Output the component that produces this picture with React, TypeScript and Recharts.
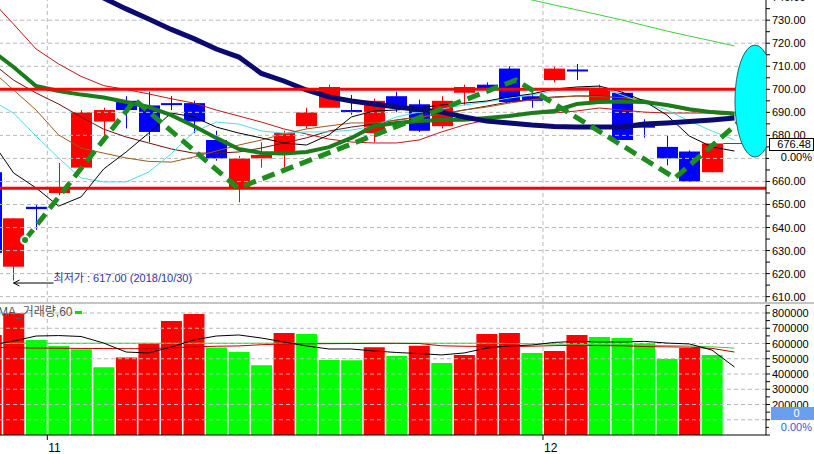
import React from 'react';
import { ComposedChart, Bar, Line, XAxis, YAxis, ReferenceLine, ReferenceDot, Cell } from 'recharts';

// ---------- data ----------
const IDX = [-1, 0, 1, 2, 3, 4, 5, 6, 7, 8, 9, 10, 11, 12, 13, 14, 15, 16, 17, 18, 19, 20, 21, 22, 23, 24, 25, 26, 27, 28, 29, 30, 31, 32];

const OPEN = [664, 623, 649, 655, 666, 686, 695, 693, 694, 694, 678, 657, 670, 672, 684, 692, 691, 681, 697, 693.5, 684, 698.5, 702, 709, 697, 704, 708.6, 694.5, 698.5, 684.2, 675, 673, 664];
const HIGH = [665, 644, 650, 668, 691, 692, 697, 699, 697, 695, 682, 671, 677, 682, 692, 702, 697.5, 696, 699, 695.5, 697, 702, 703, 710, 698, 710, 711, 702, 699, 687, 680, 673.5, 676.5];
const LOW = [628, 617, 639, 654, 665, 680, 683, 677, 691, 681, 669, 651, 666, 666, 683, 692, 689, 677, 690, 681.5, 683, 693, 699, 694, 692, 703, 704, 694, 678, 679, 667, 660, 664];
const CLOSE = [629, 644, 648, 657, 690, 691, 691, 681.5, 693.5, 686, 670, 670, 671.5, 681, 690, 701, 690.5, 695, 692, 682, 695, 701, 700, 694.5, 695, 709, 708.4, 700, 678, 684, 670, 660, 676.48];

const MA_BLACK = [678, 663.7, 657.2, 649.3, 653.3, 665.4, 672.8, 681, 689.7, 688, 683.6, 681, 678.9, 676.7, 675.8, 680.2, 688, 690.6, 691, 691.9, 693.2, 694, 694.9, 696.7, 698, 700.1, 701, 701.4, 698.8, 694.9, 688.8, 679.7, 675, 673.2];
const MA_CYAN = [695.3, 689.7, 679.7, 670.2, 661.5, 659.8, 659.8, 664.1, 672, 681.5, 685.8, 684.9, 681.9, 681, 681.5, 681.5, 682.3, 684.1, 688, 690.1, 691.4, 693.2, 694.5, 696.2, 697.5, 699.3, 700.6, 701, 697.5, 694, 691, 686.2, 681.9, 678];
const MA_BROWN = [708.4, 699.7, 691, 680.2, 674.5, 672.3, 670.2, 668.7, 668.4, 670.6, 673.2, 675.8, 678, 680.6, 682.8, 684.1, 685.4, 685.4, 686.6, 687.9, 689.2, 691, 692.3, 694, 695.4, 696.4, 697.1, 696.8, 696.4, 695.4, 692.7, 690.6, 689.5, 688.8];
const MA_MAROON = [711.8, 704, 698.4, 693.6, 688, 682.7, 679.3, 676.7, 674.1, 672.3, 672.3, 672.8, 674.5, 676.7, 678.9, 681.9, 683.6, 684.9, 686.7, 688, 689.3, 691, 692.7, 694.5, 695.8, 696.7, 697.1, 697.1, 696.2, 694.9, 692.7, 691, 689.7, 688.8];
const MA_RED = [738.8, 728.3, 717.5, 711, 705.6, 701.6, 699.9, 698, 695.9, 694, 691, 688.4, 685.8, 682.8, 680.6, 678.4, 677.1, 676.7, 676.7, 678, 681.5, 684.5, 686.7, 688.4, 689.3, 689.7, 690.6, 691.9, 691, 690.1, 689.7, 689.7, 689.7, 689.7];
const MA_GREEN = [717, 709.7, 701.4, 699.3, 697.7, 696.4, 694.5, 692.3, 688.8, 684.1, 678.9, 674.1, 672.4, 672.1, 672.8, 674.9, 678.9, 684.1, 685.4, 686.2, 686.7, 686.8, 687.5, 688.4, 689.7, 690.6, 693.6, 694.5, 694.7, 694.5, 693.2, 691.4, 690.1, 689.5];
const MA_NAVY = [761, 757, 752.6, 748, 744, 739.6, 734.9, 730.5, 726, 722, 717.5, 714, 706.9, 703.6, 699.7, 696.7, 694.9, 693.6, 692.3, 691.2, 690.1, 688, 686.2, 685.4, 684.5, 683.9, 683.6, 683.6, 683.6, 684.9, 685.4, 686, 686.7, 687.5];
const MA_LIGHT = [null, null, null, null, null, null, null, null, null, null, null, null, null, null, null, null, null, null, null, null, null, 745.5, 743.3, 741, 738.8, 736.6, 734.5, 732.3, 730.1, 727.7, 725.3, 723.1, 721, 718.8];

const TREND_X = [0.51, 5.39, 9.96, 22.3, 29.36, 32.96];
const TREND_Y = [634.6, 695.4, 657.1, 704, 661.5, 692.3];

const LEVELS = [700, 657];
const PRICE_TICKS = [610, 615, 620, 625, 630, 635, 640, 645, 650, 655, 660, 665, 670, 675, 680, 685, 690, 695, 700, 705, 710, 715, 720, 725, 730, 735, 740];
const PRICE_GRID = [610, 620, 630, 640, 650, 660, 670, 680, 690, 700, 710, 720, 730, 740];
const PRICE_LABEL_HIDDEN = [670];

const VOLUME = [656000, 798000, 623000, 584000, 562000, 444000, 509000, 601000, 748000, 793000, 573000, 544000, 457000, 669000, 662000, 492000, 490000, 575000, 518000, 586000, 472000, 525000, 662000, 669000, 538000, 551000, 656000, 643000, 636000, 603000, 498000, 570000, 525000];
const VOL_MA5 = [590000, 616000, 649000, 652000, 646000, 603000, 544000, 538000, 577000, 623000, 649000, 656000, 636000, 610000, 584000, 564000, 564000, 551000, 541000, 534000, 525000, 538000, 570000, 584000, 590000, 607000, 614000, 610000, 610000, 614000, 603000, 597000, 557000, 446000];
const VOL_MA20 = [575000, 572000, 570000, 569000, 568000, 567000, 566000, 566000, 572000, 578000, 582000, 584000, 592000, 597000, 598000, 599000, 600000, 601000, 601000, 600000, 585000, 582000, 580000, 580000, 582000, 586000, 588000, 586000, 585000, 580000, 578000, 576000, 568000, 544000];
const VOL_MA60 = [602000, 602000, 602000, 602000, 602000, 602000, 602000, 602000, 602000, 602000, 602000, 602000, 602000, 602000, 602000, 602000, 602000, 602000, 602000, 602000, 602000, 602000, 602000, 600000, 598000, 596000, 594000, 592000, 590000, 588000, 586000, 584000, 578000, 570000];
const VOL_TICKS = [0, 50000, 100000, 150000, 200000, 250000, 300000, 350000, 400000, 450000, 500000, 550000, 600000, 650000, 700000, 750000, 800000, 850000];
const VOL_GRID = [100000, 200000, 300000, 400000, 500000, 600000, 700000, 800000];

const MONTH_TICKS = [1.5, 23.5];
const MONTH_LABELS = ['11', '12'];

const LOW_NOTE = '최저가 : 617.00 (2018/10/30)';
const VOL_LEGEND = 'MA_거래량,60';
const LAST_PRICE = 676.48;
const LAST_PCT = '0.00%';
const LAST_VOL = '0';

// ---------- layout / style ----------
const W = 814;
const AXIS_W = 48;
const PLOT_RIGHT = W - AXIS_W;
const BODY_W = 21;
const X_DOMAIN = [-0.6, 33.4];
const PRICE_DOMAIN = [607.68, 743.1];
const VOL_DOMAIN = [0, 852459];
const FONT = '"Liberation Sans", Arial, "Noto Sans CJK KR", sans-serif';
const RED = '#ff0000';
const BLUE = '#0000ff';
const VGREEN = '#00ff00';
const GRID = '#b8b8b8';

const priceData = IDX.map((x, k) => ({
  x,
  open: OPEN[k],
  high: HIGH[k],
  low: LOW[k],
  close: CLOSE[k],
  black: MA_BLACK[k],
  cyan: MA_CYAN[k],
  brown: MA_BROWN[k],
  maroon: MA_MAROON[k],
  red: MA_RED[k],
  green: MA_GREEN[k],
  navy: MA_NAVY[k],
  light: MA_LIGHT[k],
}));

const trendData = TREND_X.map((x, k) => ({ x, trend: TREND_Y[k] }));

const volData = IDX.map((x, k) => ({
  x,
  vol: VOLUME[k],
  ma5: VOL_MA5[k],
  ma20: VOL_MA20[k],
  ma60: VOL_MA60[k],
}));

const volColor = (k: number) => (k === 0 || (VOLUME[k] ?? 0) > (VOLUME[k - 1] ?? 0) ? RED : VGREEN);

const candleRange = (d: any) => (d.high == null ? null : [d.low, d.high]);

const Candle = (props: any) => {
  const { x, y, width, height, payload } = props;
  if (!payload || payload.high == null || x == null || y == null) return <g />;
  const { open, close, high, low } = payload;
  const top = height >= 0 ? y : y + height;
  const h = Math.abs(height);
  const ratio = high === low ? 0 : h / (high - low);
  const yOf = (v: number) => top + (high - v) * ratio;
  const color = close >= open ? RED : BLUE;
  const bTop = yOf(Math.max(open, close));
  const bBot = yOf(Math.min(open, close));
  const cx = Math.round(x + (width || 0) / 2) + 0.5;
  return (
    <g>
      <line x1={cx} x2={cx} y1={top} y2={top + h} stroke={color} strokeWidth={1} />
      <rect x={cx - BODY_W / 2} y={bTop} width={BODY_W} height={Math.max(bBot - bTop, 2)} fill={color} />
    </g>
  );
};

const PriceTick = (props: any) => {
  const { x, y, payload } = props;
  if (payload.value % 10 !== 0 || PRICE_LABEL_HIDDEN.includes(payload.value)) return <g />;
  return (
    <text x={x} y={y} dy={4} fontSize={11} fontFamily={FONT} fill="#000" textAnchor="start">
      {Number(payload.value).toFixed(2)}
    </text>
  );
};

const VolTick = (props: any) => {
  const { x, y, payload } = props;
  if (payload.value % 100000 !== 0 || payload.value < 200000) return <g />;
  return (
    <text x={x} y={y} dy={4} fontSize={11} fontFamily={FONT} fill="#000" textAnchor="start">
      {String(payload.value)}
    </text>
  );
};

const MonthTick = (props: any) => {
  const { x, y, payload } = props;
  const k = MONTH_TICKS.indexOf(payload.value);
  return (
    <text x={x + 1} y={y} dy={10} fontSize={12} fontFamily={FONT} fill="#000" textAnchor="start">
      {MONTH_LABELS[k]}
    </text>
  );
};

const EllipseShape = (props: any) => {
  const { cx, cy } = props;
  return (
    <g>
      <defs>
        <clipPath id="ellipse-clip">
          <rect x={0} y={-2000} width={PLOT_RIGHT} height={4000} />
        </clipPath>
      </defs>
      <ellipse cx={cx} cy={cy} rx={20} ry={56} fill="#00ffff" stroke="#2f5f5f" strokeWidth={1} clipPath="url(#ellipse-clip)" />
    </g>
  );
};

const LowNote = (props: any) => {
  const { cx, cy } = props;
  const ly = cy + 2.5;
  return (
    <g>
      <line x1={cx} x2={cx + 40} y1={ly} y2={ly} stroke="#000" strokeWidth={1} />
      <polyline points={`${cx + 6},${ly - 3} ${cx},${ly} ${cx + 6},${ly + 3}`} fill="none" stroke="#000" strokeWidth={1} />
      <text x={cx + 40} y={ly - 1} fontSize={11} fontFamily={FONT} fill="#33339a">
        {LOW_NOTE}
      </text>
    </g>
  );
};

export default function App() {
  return (
    <div style={{ position: 'absolute', left: 0, top: 0, width: W, height: 454, overflow: 'hidden', background: '#fff', fontFamily: FONT }}>
      {/* price panel */}
      <div style={{ position: 'absolute', left: 0, top: -10 }}>
        <ComposedChart width={W} height={312} data={priceData} margin={{ top: 0, right: 0, bottom: 0, left: 0 }}>
          <XAxis dataKey="x" type="number" domain={X_DOMAIN} allowDataOverflow hide />
          <YAxis
            orientation="right"
            width={AXIS_W}
            type="number"
            domain={PRICE_DOMAIN}
            allowDataOverflow
            ticks={PRICE_TICKS}
            interval={0}
            tick={PriceTick}
            tickSize={4}
            tickMargin={2}
            axisLine={{ stroke: '#000' }}
            tickLine={{ stroke: '#000' }}
          />
          {PRICE_GRID.map((v) => (
            <ReferenceLine key={'g' + v} y={v} stroke={GRID} strokeDasharray="4 3" />
          ))}
          {MONTH_TICKS.map((v) => (
            <ReferenceLine key={'m' + v} x={v} stroke={GRID} strokeDasharray="4 3" />
          ))}
          <Line dataKey="light" stroke="#44cc44" strokeWidth={1} dot={false} isAnimationActive={false} />
          <Line dataKey="red" stroke="#c01818" strokeWidth={1} dot={false} isAnimationActive={false} />
          <Line dataKey="maroon" stroke="#6e1010" strokeWidth={1} dot={false} isAnimationActive={false} />
          <Line dataKey="brown" stroke="#9a5a1e" strokeWidth={1} dot={false} isAnimationActive={false} />
          <Line dataKey="cyan" stroke="#50dde6" strokeWidth={1} dot={false} isAnimationActive={false} />
          <Line dataKey="black" stroke="#000" strokeWidth={1} dot={false} isAnimationActive={false} />
          <Line dataKey="green" stroke="#1c7c1c" strokeWidth={4} dot={false} isAnimationActive={false} />
          <Line dataKey="navy" stroke="#0a0a70" strokeWidth={5} dot={false} isAnimationActive={false} />
          <Bar dataKey={candleRange} shape={Candle} barSize={BODY_W} isAnimationActive={false} />
          {LEVELS.map((v) => (
            <ReferenceLine key={'l' + v} y={v} stroke={RED} strokeWidth={3} />
          ))}
          <ReferenceLine segment={[{ x: 31.5, y: LAST_PRICE }, { x: 33.4, y: LAST_PRICE }]} stroke={RED} strokeWidth={1} />
          <ReferenceDot x={32.91} y={694.9} shape={EllipseShape} />
          <Line data={trendData} dataKey="trend" stroke="#1e8c1e" strokeWidth={5} strokeDasharray="13 7" dot={false} isAnimationActive={false} />
          <ReferenceDot x={0} y={LOW[1]} shape={LowNote} />
        </ComposedChart>
      </div>

      {/* separator */}
      <div style={{ position: 'absolute', left: 0, top: 302, width: W, height: 2, background: '#c4c4c4' }} />

      {/* volume panel */}
      <div style={{ position: 'absolute', left: 0, top: 303 }}>
        <ComposedChart width={W} height={151} data={volData} margin={{ top: 2, right: 0, bottom: 0, left: 0 }}>
          <XAxis
            dataKey="x"
            type="number"
            domain={X_DOMAIN}
            allowDataOverflow
            ticks={MONTH_TICKS}
            interval={0}
            tick={MonthTick}
            height={19}
            tickSize={5}
            tickMargin={2}
            axisLine={{ stroke: '#000' }}
            tickLine={{ stroke: '#000' }}
          />
          <YAxis
            orientation="right"
            width={AXIS_W}
            type="number"
            domain={VOL_DOMAIN}
            allowDataOverflow
            ticks={VOL_TICKS}
            interval={0}
            tick={VolTick}
            tickSize={4}
            tickMargin={2}
            axisLine={{ stroke: '#000' }}
            tickLine={{ stroke: '#000' }}
          />
          {VOL_GRID.map((v) => (
            <ReferenceLine key={'vg' + v} y={v} stroke={GRID} strokeDasharray="4 3" />
          ))}
          {MONTH_TICKS.map((v) => (
            <ReferenceLine key={'vm' + v} x={v} stroke={GRID} strokeDasharray="4 3" />
          ))}
          <Bar dataKey="vol" barSize={21} isAnimationActive={false}>
            {volData.map((d, k) => (
              <Cell key={k} fill={volColor(k)} />
            ))}
          </Bar>
          <Line dataKey="ma60" stroke="#44cc44" strokeWidth={1} dot={false} isAnimationActive={false} />
          <Line dataKey="ma20" stroke="#c00000" strokeWidth={1} dot={false} isAnimationActive={false} />
          <Line dataKey="ma5" stroke="#000" strokeWidth={1} dot={false} isAnimationActive={false} />
        </ComposedChart>
      </div>

      {/* legend of volume panel */}
      <div style={{ position: 'absolute', left: -2, top: 305, fontSize: 12, color: '#555', whiteSpace: 'nowrap', lineHeight: '14px' }}>
        {VOL_LEGEND}
        <span style={{ display: 'inline-block', width: 7, height: 3, background: '#00e000', marginLeft: 3, verticalAlign: 'middle' }} />
      </div>

      {/* last price box */}
      <div style={{ position: 'absolute', left: 769, top: 138, width: 45, height: 13, boxSizing: 'border-box', border: '1px solid #000', background: '#fff', fontSize: 11, lineHeight: '11px', textAlign: 'right', paddingRight: 2, color: '#000' }}>
        {LAST_PRICE.toFixed(2)}
      </div>
      <div style={{ position: 'absolute', left: 769, top: 151, width: 45, height: 13, boxSizing: 'border-box', paddingRight: 2, background: '#fff', fontSize: 11, lineHeight: '13px', textAlign: 'right', color: '#000' }}>{LAST_PCT}</div>

      {/* last volume box */}
      <div style={{ position: 'absolute', left: 771, top: 407, width: 43, height: 13, background: '#6a9ff0', color: '#fff', fontSize: 11, lineHeight: '13px', textAlign: 'center', paddingLeft: 8, boxSizing: 'border-box' }}>
        {LAST_VOL}
      </div>
      <div style={{ position: 'absolute', left: 769, top: 421, width: 45, height: 13, boxSizing: 'border-box', paddingRight: 2, background: '#fff', fontSize: 11, lineHeight: '13px', textAlign: 'right', color: '#2b5ed8' }}>{LAST_PCT}</div>
    </div>
  );
}
